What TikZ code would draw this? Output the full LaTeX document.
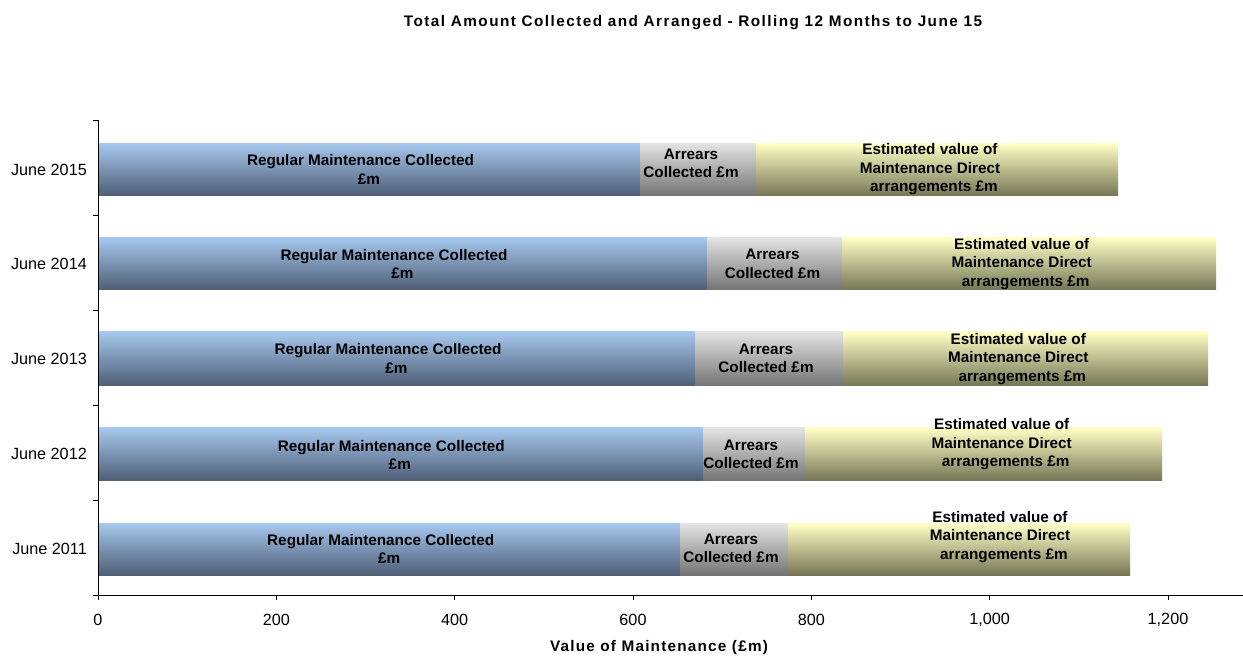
\documentclass[tikz,border=0pt]{standalone}
\usepackage{fontspec}
\setmainfont{Liberation Sans}
\newfontfamily\spacedbf[LetterSpace=8]{Liberation Sans Bold}
\newfontfamily\titlebf[LetterSpace=9.5]{Liberation Sans Bold}
\definecolor{blueT}{RGB}{166,200,238}
\definecolor{blueB}{RGB}{78,94,118}
\definecolor{grayT}{RGB}{228,228,228}
\definecolor{grayB}{RGB}{116,116,116}
\definecolor{yelT}{RGB}{255,255,198}
\definecolor{yelB}{RGB}{118,118,86}
\tikzset{
  blueseg/.style={top color=blueT, bottom color=blueB, draw=none},
  grayseg/.style={top color=grayT, bottom color=grayB, draw=none},
  yelseg/.style={top color=yelT, bottom color=yelB, draw=none},
  barlabel/.style={font=\bfseries\fontsize{15.3}{18.5}\selectfont, align=center, inner sep=0pt, text=black},
  ticklabel/.style={font=\fontsize{16.2}{19}\selectfont, inner sep=0pt},
  axisline/.style={line width=1pt, black},
}
\begin{document}
\begin{tikzpicture}[x=1pt,y=-1pt]
\useasboundingbox (0,0) rectangle (1243,657);
\fill[white] (0,0) rectangle (1243,657);
% title
\node[font=\titlebf\fontsize{15.3}{18}\selectfont, inner sep=0pt] (title) at (693,22.5) {Total Amount Collected and Arranged - Rolling 12 Months to June 15};
% bars: ytop ybot blueEnd grayEnd yelEnd
\foreach \yt/\yb/\b/\g/\e [count=\i] in {143.3/195.7/640/756/1118, 237.3/289.7/707/842/1216, 331.7/385.7/695/843/1208, 427.7/480.7/703/805/1162, 523.3/575/680/788/1130}{
  \path[blueseg] (98,\yt) rectangle (\b,\yb);
  \path[grayseg] (\b,\yt) rectangle (\g,\yb);
  \path[yelseg] (\g,\yt) rectangle (\e,\yb);
}
% blue labels
\node[barlabel] (b15) at (369,169.5) {Regular Maintenance Collected\rule{17pt}{0pt}\\£m};
\node[barlabel] (b14) at (402.5,264) {Regular Maintenance Collected\rule{17pt}{0pt}\\£m};
\node[barlabel] (b13) at (396.5,358.5) {Regular Maintenance Collected\rule{17pt}{0pt}\\£m};
\node[barlabel] (b12) at (399.8,454.8) {Regular Maintenance Collected\rule{17pt}{0pt}\\£m};
\node[barlabel] (b11) at (389.2,548.7) {Regular Maintenance Collected\rule{17pt}{0pt}\\£m};
% gray labels
\node[barlabel] (g15) at (691,163.5) {Arrears\\Collected £m};
\node[barlabel] (g14) at (772.5,264) {Arrears\\Collected £m};
\node[barlabel] (g13) at (766,358.5) {Arrears\\Collected £m};
\node[barlabel] (g12) at (751,454.5) {Arrears\\Collected £m};
\node[barlabel] (g11) at (731,548.5) {Arrears\\Collected £m};
% yellow labels
\node[barlabel] (y15) at (930,169.3) {Estimated value of\\Maintenance Direct\\\rule{8pt}{0pt}arrangements £m};
\node[barlabel] (y14) at (1021.7,264) {Estimated value of\\Maintenance Direct\\\rule{8pt}{0pt}arrangements £m};
\node[barlabel] (y13) at (1018.3,359) {Estimated value of\\Maintenance Direct\\\rule{8pt}{0pt}arrangements £m};
\node[barlabel] (y12) at (1001.7,444.3) {Estimated value of\\Maintenance Direct\\\rule{8pt}{0pt}arrangements £m};
\node[barlabel] (y11) at (1000,536.7) {Estimated value of\\Maintenance Direct\\\rule{8pt}{0pt}arrangements £m};
% axes
\draw[axisline] (98,120) -- (98,595) -- (1243,595);
\foreach \y in {120,215,310,405,500,595} \draw[axisline] (93,\y) -- (98,\y);
\foreach \v/\t [count=\k from 0] in {0/0,200/200,400/400,600/600,800/800,1000/{1,000},1200/{1,200}}{
  \draw[axisline] ({98+\v*0.89167},595) -- ({98+\v*0.89167},600);
  \node[ticklabel] (xt\k) at ({98+\v*0.89167},620) {\t};
}
% category labels
\node[ticklabel, anchor=east] (c15) at (87,169.5) {June 2015};
\node[ticklabel, anchor=east] (c14) at (87,263.5) {June 2014};
\node[ticklabel, anchor=east] (c13) at (87,358.7) {June 2013};
\node[ticklabel, anchor=east] (c12) at (87,454.2) {June 2012};
\node[ticklabel, anchor=east] (c11) at (87,549.2) {June 2011};
% axis title
\node[font=\spacedbf\fontsize{15.3}{18}\selectfont, inner sep=0pt] (xtitle) at (659,648) {Value of Maintenance (£m)};
\end{tikzpicture}
\end{document}
